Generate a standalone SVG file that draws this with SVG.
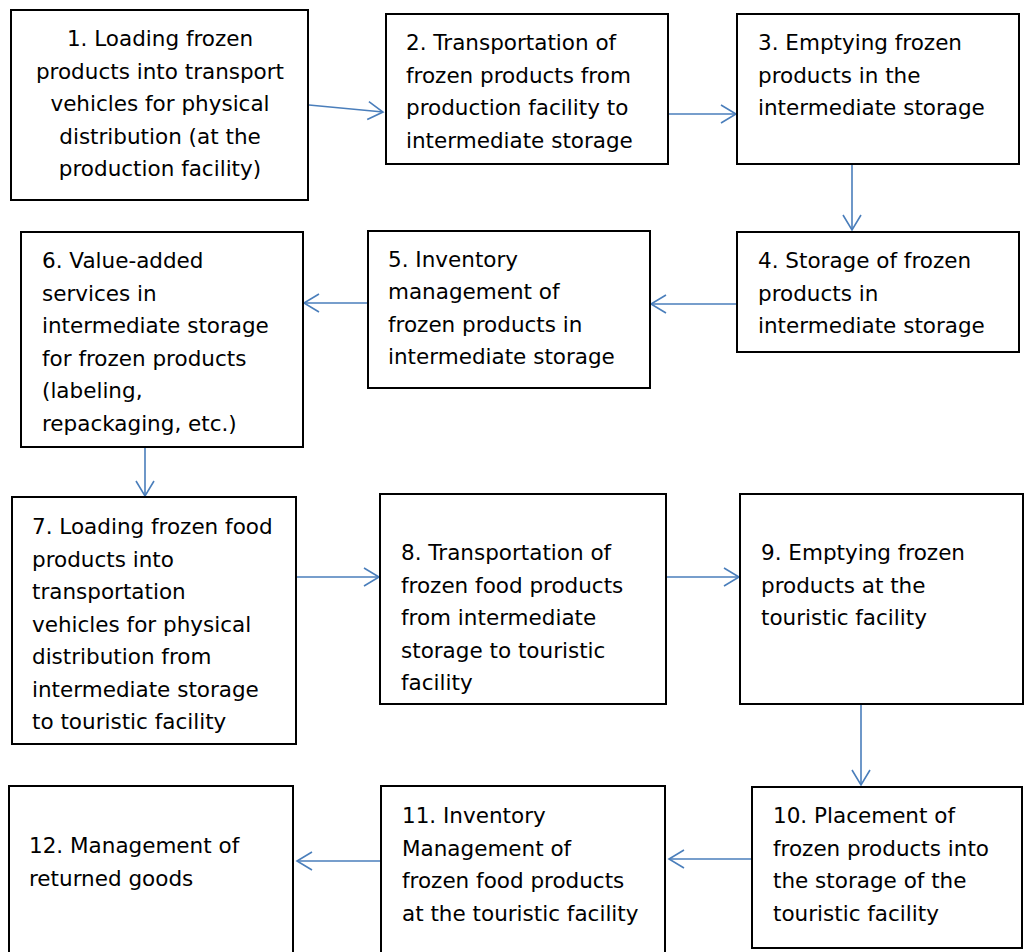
<svg xmlns="http://www.w3.org/2000/svg" width="1024" height="952" viewBox="0 0 1024 952">
<defs>
<style>
.box{fill:#fff;stroke:#000;stroke-width:2}
.t{font-family:"DejaVu Sans",sans-serif;font-size:21.5px;fill:#000}
.c{text-anchor:middle}
.conn{fill:none;stroke:#4a7ebb;stroke-width:1.6}
</style>
<marker id="ah" viewBox="-18 -11 20 22" refX="0" refY="0" markerWidth="20" markerHeight="22" markerUnits="userSpaceOnUse" orient="auto">
<path d="M-15,-9 L0,0 L-15,9" fill="none" stroke="#4a7ebb" stroke-width="1.6"/>
</marker>
</defs>
<rect width="1024" height="952" fill="#fff"/>
<g id="connectors">
<path class="conn" d="M309,105 L383,112" marker-end="url(#ah)"/>
<path class="conn" d="M668,114 L736,114" marker-end="url(#ah)"/>
<path class="conn" d="M852,164 L852,230" marker-end="url(#ah)"/>
<path class="conn" d="M737,304 L651,304" marker-end="url(#ah)"/>
<path class="conn" d="M368,303 L304,303" marker-end="url(#ah)"/>
<path class="conn" d="M145,447 L145,496" marker-end="url(#ah)"/>
<path class="conn" d="M296,577 L379,577" marker-end="url(#ah)"/>
<path class="conn" d="M666,577 L739,577" marker-end="url(#ah)"/>
<path class="conn" d="M861,704 L861,785" marker-end="url(#ah)"/>
<path class="conn" d="M752,859 L669,859" marker-end="url(#ah)"/>
<path class="conn" d="M381,861 L297,861" marker-end="url(#ah)"/>
</g>
<g id="n1">
<rect class="box" x="11" y="10" width="297" height="190"/>
<text class="t c"><tspan x="160" y="46">1. Loading frozen</tspan><tspan x="160" y="78.5">products into transport</tspan><tspan x="160" y="111">vehicles for physical</tspan><tspan x="160" y="143.5">distribution (at the</tspan><tspan x="160" y="176">production facility)</tspan></text>
</g>
<g id="n2">
<rect class="box" x="386" y="14" width="282" height="150"/>
<text class="t"><tspan x="406" y="50">2. Transportation of</tspan><tspan x="406" y="82.5">frozen products from</tspan><tspan x="406" y="115">production facility to</tspan><tspan x="406" y="147.5">intermediate storage</tspan></text>
</g>
<g id="n3">
<rect class="box" x="737" y="14" width="282" height="150"/>
<text class="t"><tspan x="758" y="50">3. Emptying frozen</tspan><tspan x="758" y="82.5">products in the</tspan><tspan x="758" y="115">intermediate storage</tspan></text>
</g>
<g id="n4">
<rect class="box" x="737" y="232" width="282" height="120"/>
<text class="t"><tspan x="758" y="268">4. Storage of frozen</tspan><tspan x="758" y="300.5">products in</tspan><tspan x="758" y="333">intermediate storage</tspan></text>
</g>
<g id="n5">
<rect class="box" x="368" y="231" width="282" height="157"/>
<text class="t"><tspan x="388" y="266.5">5. Inventory</tspan><tspan x="388" y="299">management of</tspan><tspan x="388" y="331.5">frozen products in</tspan><tspan x="388" y="364">intermediate storage</tspan></text>
</g>
<g id="n6">
<rect class="box" x="21" y="232" width="282" height="215"/>
<text class="t"><tspan x="42" y="268">6. Value-added</tspan><tspan x="42" y="300.5">services in</tspan><tspan x="42" y="333">intermediate storage</tspan><tspan x="42" y="365.5">for frozen products</tspan><tspan x="42" y="398">(labeling,</tspan><tspan x="42" y="430.5">repackaging, etc.)</tspan></text>
</g>
<g id="n7">
<rect class="box" x="12" y="497" width="284" height="247"/>
<text class="t"><tspan x="32" y="534">7. Loading frozen food</tspan><tspan x="32" y="566.5">products into</tspan><tspan x="32" y="599">transportation</tspan><tspan x="32" y="631.5">vehicles for physical</tspan><tspan x="32" y="664">distribution from</tspan><tspan x="32" y="696.5">intermediate storage</tspan><tspan x="32" y="729">to touristic facility</tspan></text>
</g>
<g id="n8">
<rect class="box" x="380" y="494" width="286" height="210"/>
<text class="t"><tspan x="401" y="560">8. Transportation of</tspan><tspan x="401" y="592.5">frozen food products</tspan><tspan x="401" y="625">from intermediate</tspan><tspan x="401" y="657.5">storage to touristic</tspan><tspan x="401" y="690">facility</tspan></text>
</g>
<g id="n9">
<rect class="box" x="740" y="494" width="283" height="210"/>
<text class="t"><tspan x="761" y="560">9. Emptying frozen</tspan><tspan x="761" y="592.5">products at the</tspan><tspan x="761" y="625">touristic facility</tspan></text>
</g>
<g id="n10">
<rect class="box" x="752" y="787" width="270" height="161"/>
<text class="t"><tspan x="773" y="823">10. Placement of</tspan><tspan x="773" y="855.5">frozen products into</tspan><tspan x="773" y="888">the storage of the</tspan><tspan x="773" y="920.5">touristic facility</tspan></text>
</g>
<g id="n11">
<rect class="box" x="381" y="786" width="284" height="172"/>
<text class="t"><tspan x="402" y="823">11. Inventory</tspan><tspan x="402" y="855.5">Management of</tspan><tspan x="402" y="888">frozen food products</tspan><tspan x="402" y="920.5">at the touristic facility</tspan></text>
</g>
<g id="n12">
<rect class="box" x="9" y="786" width="284" height="172"/>
<text class="t"><tspan x="29" y="853">12. Management of</tspan><tspan x="29" y="885.5">returned goods</tspan></text>
</g>
</svg>
